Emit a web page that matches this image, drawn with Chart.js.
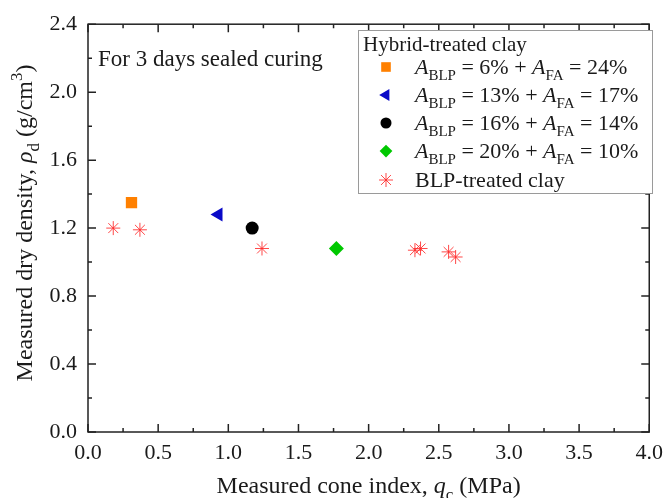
<!DOCTYPE html>
<html>
<head>
<meta charset="utf-8">
<script src="https://cdn.jsdelivr.net/npm/chart.js@4.4.1/dist/chart.umd.min.js"></script>
<style>
  html, body { margin: 0; padding: 0; background: #fff; }
</style>
</head>
<body>
<canvas id="chart" width="671" height="498"></canvas>
<script>
// BLP-treated clay: cone index (MPa) vs dry density (g/cm3)
const blpConeIndex = [0.18, 0.37, 1.24, 2.33, 2.37, 2.57, 2.62];
const blpDensity   = [1.20, 1.19, 1.08, 1.07, 1.08, 1.06, 1.03];

// hybrid-treated clay, one point per mix
const hybridConeIndex = [0.31, 0.93, 1.17, 1.77];
const hybridDensity   = [1.35, 1.28, 1.20, 1.08];
const blpContent = [6, 13, 16, 20];
const faContent  = [24, 17, 14, 10];

const xTicks = [0, 0.5, 1.0, 1.5, 2.0, 2.5, 3.0, 3.5, 4.0];
const yTicks = [0, 0.4, 0.8, 1.2, 1.6, 2.0, 2.4];

const SERIF = '"Liberation Serif", "Times New Roman", serif';
const INK = '#1a1a1a';

const hybridStyles = [
  { color: '#ff8000', pointStyle: 'rect', radius: 8, rotation: 0 },
  { color: '#0a0ac8', pointStyle: 'triangle', radius: 8, rotation: -90 },
  { color: '#000000', pointStyle: 'circle', radius: 6.5, rotation: 0 },
  { color: '#00c800', pointStyle: 'rectRot', radius: 7.5, rotation: 0 }
];

const datasets = hybridConeIndex.map((x, i) => ({
  label: 'A_BLP = ' + blpContent[i] + '% + A_FA = ' + faContent[i] + '%',
  data: [{ x: x, y: hybridDensity[i] }],
  pointStyle: hybridStyles[i].pointStyle,
  rotation: hybridStyles[i].rotation,
  pointRadius: hybridStyles[i].radius,
  pointHoverRadius: hybridStyles[i].radius,
  backgroundColor: hybridStyles[i].color,
  borderColor: hybridStyles[i].color,
  borderWidth: 0
}));

datasets.push({
  label: 'BLP-treated clay',
  data: blpConeIndex.map((x, i) => ({ x: x, y: blpDensity[i] })),
  pointStyle: 'star',
  pointRadius: 7,
  pointHoverRadius: 7,
  backgroundColor: 'rgba(255,40,40,0.85)',
  borderColor: 'rgba(255,40,40,0.85)',
  borderWidth: 1
});

// text with italic / subscript / superscript runs
function richText(ctx, x, y, parts, size, align) {
  const fontFor = s => (s === 'i' ? 'italic ' : '') +
    Math.round(s === 'sub' || s === 'sup' ? size * 0.7 : size) + 'px ' + SERIF;
  let w = 0;
  parts.forEach(([t, s]) => { ctx.font = fontFor(s); w += ctx.measureText(t).width; });
  let cx = align === 'center' ? x - w / 2 : x;
  ctx.textAlign = 'left';
  ctx.textBaseline = 'alphabetic';
  parts.forEach(([t, s]) => {
    ctx.font = fontFor(s);
    const dy = s === 'sub' ? size * 0.28 : s === 'sup' ? -size * 0.4 : 0;
    ctx.fillText(t, cx, y + dy);
    cx += ctx.measureText(t).width;
  });
}

// box frame with inward major/minor ticks on all four sides
const framePlugin = {
  id: 'frame',
  beforeDatasetsDraw(chart) {
    const { ctx, chartArea: a, scales: { x, y } } = chart;
    ctx.save();
    ctx.strokeStyle = '#222';
    ctx.lineWidth = 1.5;
    ctx.strokeRect(a.left, a.top, a.right - a.left, a.bottom - a.top);
    ctx.beginPath();
    for (let i = 0; i <= 16; i++) {
      const px = x.getPixelForValue(i * 0.25);
      const len = i % 2 ? 4 : 8;
      ctx.moveTo(px, a.bottom); ctx.lineTo(px, a.bottom - len);
      ctx.moveTo(px, a.top); ctx.lineTo(px, a.top + len);
    }
    for (let i = 0; i <= 12; i++) {
      const py = y.getPixelForValue(i * 0.2);
      const len = i % 2 ? 4 : 8;
      ctx.moveTo(a.left, py); ctx.lineTo(a.left + len, py);
      ctx.moveTo(a.right, py); ctx.lineTo(a.right - len, py);
    }
    ctx.stroke();
    ctx.restore();
  }
};

// axis titles, note and legend
const textPlugin = {
  id: 'texts',
  afterDraw(chart) {
    const { ctx, chartArea: a } = chart;
    ctx.save();
    ctx.fillStyle = INK;

    richText(ctx, (a.left + a.right) / 2, 493, [
      ['Measured cone index, ', ''], ['q', 'i'], ['c', 'sub'], [' (MPa)', '']
    ], 24, 'center');

    ctx.save();
    ctx.translate(24, 223);
    ctx.rotate(-Math.PI / 2);
    richText(ctx, 0, 8, [
      ['Measured dry density, ', ''], ['\u03c1', 'i'], ['d', 'sub'],
      [' (g/cm', ''], ['3', 'sup'], [')', '']
    ], 24, 'center');
    ctx.restore();

    richText(ctx, 98, 66, [['For 3 days sealed curing', '']], 23, 'left');

    // legend
    const lx = 358, ly = 30, lw = 294, lh = 163;
    ctx.fillStyle = '#fff';
    ctx.fillRect(lx, ly, lw, lh);
    ctx.strokeStyle = '#9a9a9a';
    ctx.lineWidth = 1;
    ctx.strokeRect(lx + 0.5, ly + 0.5, lw, lh);
    ctx.fillStyle = INK;
    richText(ctx, 363, 51, [['Hybrid-treated clay', '']], 21, 'left');

    const rowY = [67, 95, 123, 151, 180];
    chart.data.datasets.forEach((ds, i) => {
      const cy = rowY[i];
      ctx.save();
      ctx.fillStyle = ds.backgroundColor;
      ctx.strokeStyle = ds.borderColor;
      ctx.lineWidth = ds.borderWidth;
      const r = ds.pointStyle === 'star' ? 7 : ds.pointRadius * 0.85;
      Chart.helpers.drawPoint(ctx, {
        pointStyle: ds.pointStyle, rotation: ds.rotation || 0,
        radius: r, borderWidth: ds.borderWidth
      }, 386, cy);
      ctx.restore();
      ctx.fillStyle = INK;
      if (i < blpContent.length) {
        richText(ctx, 415, cy + 7, [
          ['A', 'i'], ['BLP', 'sub'], [' = ' + blpContent[i] + '% + ', ''],
          ['A', 'i'], ['FA', 'sub'], [' = ' + faContent[i] + '%', '']
        ], 21.5, 'left');
      } else {
        richText(ctx, 415, cy + 7, [[ds.label, '']], 21.5, 'left');
      }
    });
    ctx.restore();
  }
};

const tickFont = { family: SERIF, size: 22 };

new Chart(document.getElementById('chart'), {
  type: 'scatter',
  data: { datasets: datasets },
  options: {
    responsive: false,
    animation: false,
    layout: { padding: { top: 20, right: 16, left: 0, bottom: 0 } },
    plugins: { legend: { display: false }, tooltip: { enabled: false } },
    scales: {
      x: {
        type: 'linear', min: xTicks[0], max: xTicks[xTicks.length - 1],
        afterBuildTicks: s => { s.ticks = xTicks.map(v => ({ value: v })); },
        afterFit: s => { s.height = 66; },
        grid: { display: false, drawTicks: false },
        border: { display: false },
        ticks: { font: tickFont, color: INK, padding: 8, maxRotation: 0, autoSkip: false,
                 callback: v => v.toFixed(1) }
      },
      y: {
        type: 'linear', min: yTicks[0], max: yTicks[yTicks.length - 1],
        afterBuildTicks: s => { s.ticks = yTicks.map(v => ({ value: v })); },
        afterFit: s => { s.width = 88; },
        grid: { display: false, drawTicks: false },
        border: { display: false },
        ticks: { font: tickFont, color: INK, padding: 11, autoSkip: false,
                 callback: v => v.toFixed(1) }
      }
    }
  },
  plugins: [framePlugin, textPlugin]
});
</script>
</body>
</html>
